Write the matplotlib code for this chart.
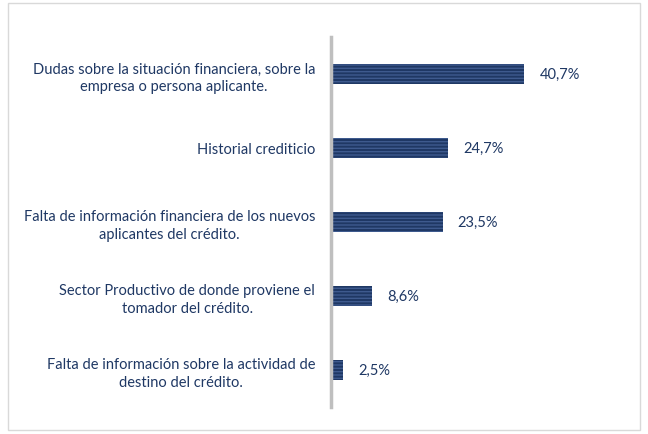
import matplotlib
matplotlib.use("Agg")
import matplotlib.pyplot as plt
from matplotlib.patches import Rectangle

categories = [
    "Dudas sobre la situación financiera, sobre la\nempresa o persona aplicante.",
    "Historial crediticio",
    "Falta de información financiera de los nuevos\naplicantes del crédito.",
    "Sector Productivo de donde proviene el\ntomador del crédito.",
    "Falta de información sobre la actividad de\ndestino del crédito.",
]
values = [40.7, 24.7, 23.5, 8.6, 2.5]
labels = ["40,7%", "24,7%", "23,5%", "8,6%", "2,5%"]

plt.rcParams['font.family'] = ['Lato', 'DejaVu Sans']
plt.rcParams['hatch.linewidth'] = 1.0

navy = "#1F3864"
fig = plt.figure(figsize=(6.48, 4.35), dpi=100)
ax = fig.add_axes([331/648, 1 - 408/435, (592-331)/648, 370/435])

ypos = list(range(len(categories)))
ax.barh(ypos, values, height=0.27, color=navy, edgecolor="#3E5A8E",
        hatch="-----", linewidth=0)
ax.set_ylim(len(categories) - 0.5, -0.5)
ax.set_xlim(0, 55)
ax.set_yticks(ypos)
ax.set_yticklabels(categories, fontsize=10.5, color=navy,
                   multialignment="center", linespacing=1.3)
ax.tick_params(axis="y", length=0, pad=11.5)
ax.set_xticks([])
for s in ["top", "right", "bottom"]:
    ax.spines[s].set_visible(False)
ax.spines["left"].set_color("#BFBFBF")
ax.spines["left"].set_linewidth(2.5)
for y, v, l in zip(ypos, values, labels):
    ax.text(v + 3.2, y, l, va="center", ha="left", fontsize=10.5, color=navy)

fig.patches.append(Rectangle((8/648, 1 - 431/435), 632/648, 427/435,
                             transform=fig.transFigure, fill=False,
                             edgecolor="#D9D9D9", linewidth=1))
fig.savefig("out.png", dpi=100)
